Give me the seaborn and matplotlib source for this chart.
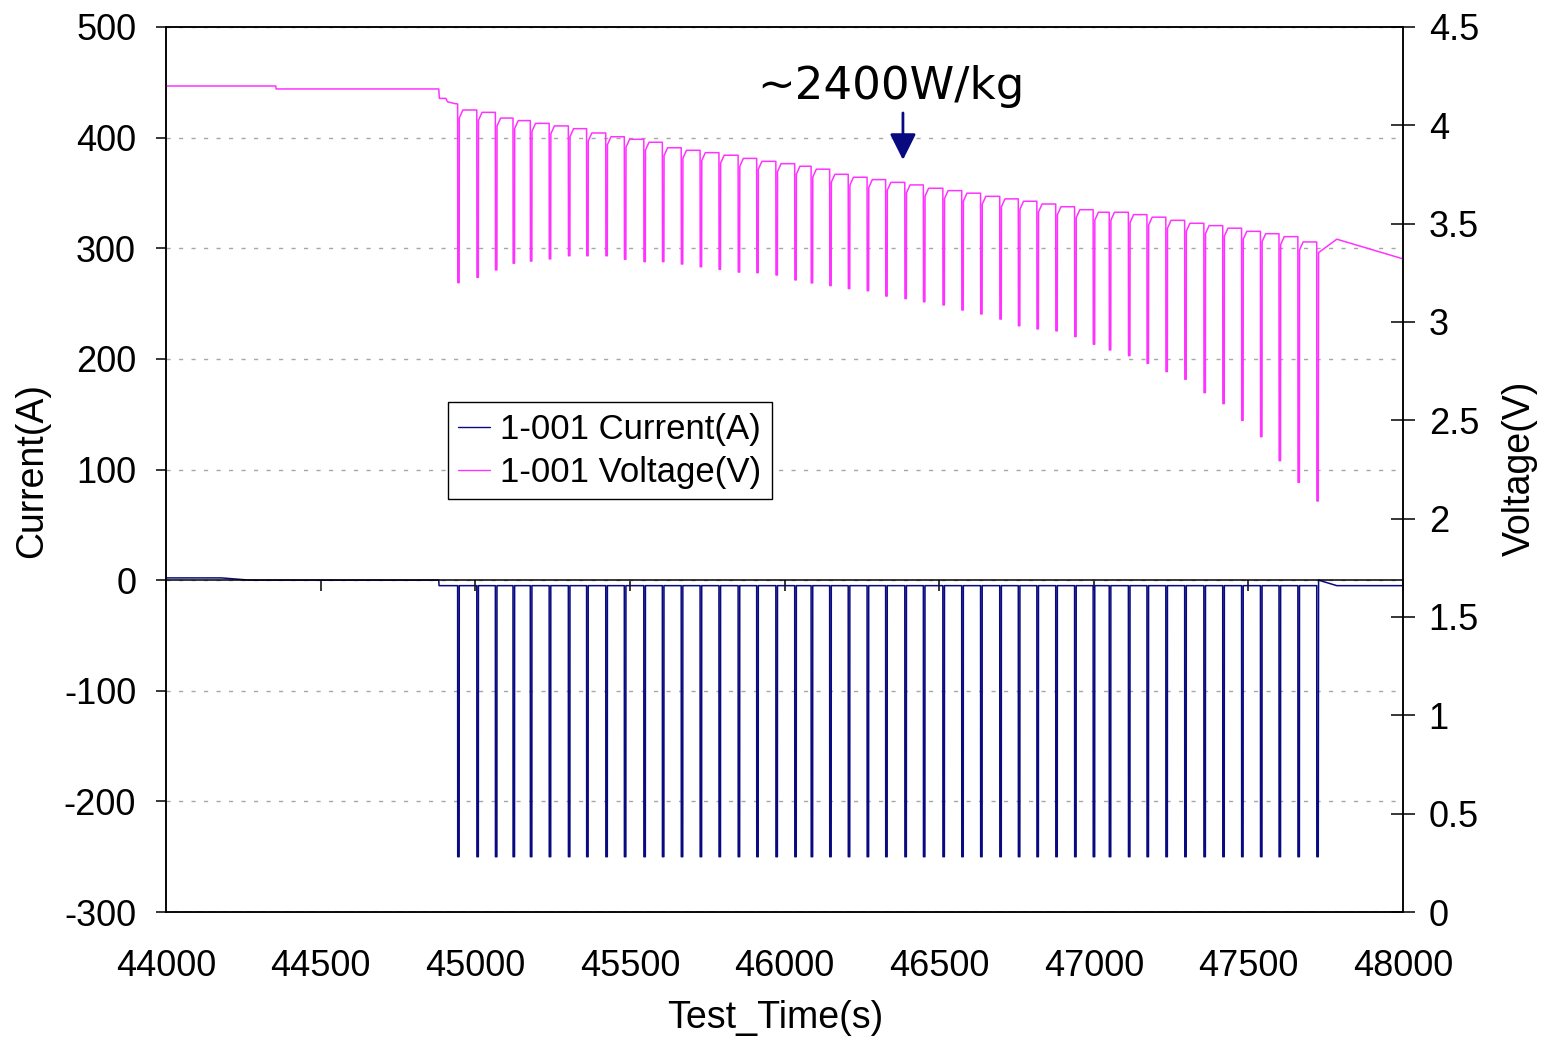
import numpy as np
import pandas as pd
import matplotlib
matplotlib.use("Agg")
import matplotlib.pyplot as plt
from matplotlib.lines import Line2D
from matplotlib.ticker import MultipleLocator, FuncFormatter
import seaborn as sns

# ---------------- data ----------------
pulse_time = [44943, 45005, 45065, 45122, 45178, 45239, 45301, 45360, 45422, 45482,
              45545, 45605, 45666, 45727, 45788, 45850, 45910, 45972, 46033, 46086,
              46146, 46206, 46267, 46327, 46389, 46449, 46512, 46573, 46634, 46696,
              46756, 46816, 46877, 46938, 46998, 47050, 47112, 47172, 47233, 47294,
              47356, 47417, 47478, 47539, 47599, 47660, 47721]
rest_voltage = [4.109, 4.078, 4.066, 4.037, 4.024, 4.010, 3.997, 3.983, 3.961, 3.942,
                3.929, 3.914, 3.886, 3.873, 3.861, 3.848, 3.832, 3.817, 3.805, 3.792,
                3.777, 3.751, 3.736, 3.724, 3.710, 3.697, 3.680, 3.668, 3.655, 3.639,
                3.626, 3.614, 3.600, 3.586, 3.571, 3.558, 3.558, 3.546, 3.533, 3.517,
                3.502, 3.490, 3.477, 3.461, 3.449, 3.434, 3.407]
pulse_min_voltage = [3.200, 3.227, 3.265, 3.299, 3.310, 3.321, 3.337, 3.337, 3.337, 3.319,
                     3.307, 3.307, 3.295, 3.281, 3.268, 3.254, 3.251, 3.239, 3.214, 3.199,
                     3.185, 3.170, 3.159, 3.132, 3.119, 3.103, 3.087, 3.061, 3.041, 3.015,
                     2.981, 2.965, 2.955, 2.926, 2.887, 2.858, 2.829, 2.790, 2.748, 2.709,
                     2.641, 2.585, 2.500, 2.417, 2.295, 2.185, 2.090]
pulse_current = -250
rest_current = -5
pulse_len = 5

lead_time = [44000, 44355, 44356, 44882, 44884, 44905, 44910, 44935]
lead_voltage = [4.200, 4.200, 4.185, 4.185, 4.137, 4.137, 4.120, 4.110]
tail_time = [47727, 47786, 48000]
tail_voltage = [3.353, 3.421, 3.321]

lead_current_time = [44000, 44180, 44270, 44882, 44883]
lead_current = [2, 2, 0, 0, -5]
tail_current_time = [47727, 47786, 48000]
tail_current = [0, -5, -5]

x_ticks = [44000, 44500, 45000, 45500, 46000, 46500, 47000, 47500, 48000]
annot_text = "~2400W/kg"
annot_time = 46383
annot_from_v, annot_to_v = 4.063, 3.824

# ---------------- build waveforms from the read values ----------------
n = len(pulse_time)
vt, vv = list(lead_time), list(lead_voltage)
ct, cc = list(lead_current_time), list(lead_current)
for i, tp in enumerate(pulse_time):
    vt += [tp, tp + 0.5, tp + pulse_len]
    vv += [rest_voltage[i], pulse_min_voltage[i], pulse_min_voltage[i]]
    ct += [tp, tp + 0.3, tp + pulse_len]
    cc += [rest_current, pulse_current, pulse_current]
    if i + 1 < n:
        nxt = rest_voltage[i + 1]
        vt += [tp + pulse_len + 0.5, tp + pulse_len + 12]
        vv += [nxt - 0.04, nxt]
        ct += [tp + pulse_len + 0.3]
        cc += [rest_current]
vt += tail_time
vv += tail_voltage
ct += tail_current_time
cc += tail_current

df_v = pd.DataFrame({"time": vt, "voltage": vv})
df_c = pd.DataFrame({"time": ct, "current": cc})

# ---------------- styling ----------------
sns.set_theme(style="white")
plt.rcParams["font.family"] = ["Liberation Sans", "DejaVu Sans"]
plt.rcParams["axes.unicode_minus"] = False
for k in ("text.color", "axes.labelcolor", "xtick.color", "ytick.color",
          "axes.edgecolor"):
    plt.rcParams[k] = "black"

FS = 26
FS_LAB = 27
FS_LEG = 25
NAVY = "#0a0a80"
MAG = "#ff33ff"

fig = plt.figure(figsize=(15.45, 10.4), dpi=100)
ax = fig.add_axes([166 / 1545, 1 - 912 / 1040, (1403 - 166) / 1545, (912 - 27) / 1040])
ax2 = ax.twinx()

sns.lineplot(data=df_c, x="time", y="current", ax=ax, color=NAVY, lw=1.1,
             estimator=None, sort=False, legend=False)
sns.lineplot(data=df_v, x="time", y="voltage", ax=ax2, color=MAG, lw=1.1,
             estimator=None, sort=False, legend=False)

ax.set_xlim(44000, 48000)
ax.set_ylim(-300, 500)
ax2.set_ylim(0, 4.5)

ax.yaxis.set_major_locator(MultipleLocator(100))
ax2.yaxis.set_major_locator(MultipleLocator(0.5))
ax2.yaxis.set_major_formatter(FuncFormatter(lambda v, p: "%g" % v))

ax.set_axisbelow(True)
ax.yaxis.grid(True, linestyle=(0, (3, 6)), color="#a8a8a8", lw=1.0)
ax.xaxis.grid(False)

for a in (ax, ax2):
    for s in a.spines.values():
        s.set_color("black")
        s.set_linewidth(1.1)
        s.set_visible(True)

# zero line with tick marks
ax.spines["bottom"].set_position(("data", 0))
ax.set_xticks(x_ticks)
ax.tick_params(axis="x", direction="out", length=8, width=1.1, color="black",
               labelbottom=False, bottom=True)
ax.tick_params(axis="y", direction="out", length=7.5, width=1.1, color="black",
               labelsize=FS, pad=14, left=True)
ax2.tick_params(axis="y", direction="inout", length=17, width=1.1, color="black",
                labelsize=FS, pad=10, right=True)

sec = ax.secondary_xaxis("bottom")
sec.set_xticks(x_ticks)
sec.tick_params(axis="x", length=0, labelsize=FS, pad=27)
sec.spines["bottom"].set_color("black")
sec.spines["bottom"].set_linewidth(1.1)

ax.set_xlabel("")
ax.set_ylabel("")
ax2.set_ylabel("")
sec.set_xlabel("")

fig.text(32 / 1545, 1 - 470 / 1040, "Current(A)", rotation=90, ha="center",
         va="center", fontsize=FS_LAB)
fig.text(1520 / 1545, 1 - 468 / 1040, "Voltage(V)", rotation=90, ha="center",
         va="center", fontsize=FS_LAB)
fig.text(775 / 1545, 1 - 1018 / 1040, "Test_Time(s)", ha="center", va="center",
         fontsize=FS_LAB)

# annotation
ax2.annotate("", xy=(annot_time, annot_to_v), xytext=(annot_time, annot_from_v),
             arrowprops=dict(arrowstyle="-|>", color=NAVY, lw=2.0,
                             mutation_scale=40, shrinkA=0, shrinkB=0))
ax2.text(46344, 4.195, annot_text, ha="center", va="center", fontsize=32.5,
         family="DejaVu Sans", color="black")

handles = [Line2D([], [], color=NAVY, lw=1.0), Line2D([], [], color=MAG, lw=1.0)]
leg = ax2.legend(handles, ["1-001 Current(A)", "1-001 Voltage(V)"],
                 loc="upper left", bbox_to_anchor=(0.228, 0.576),
                 fontsize=FS_LEG, frameon=True, fancybox=False, framealpha=1,
                 edgecolor="black", borderaxespad=0, borderpad=0.3,
                 handlelength=0.9, handletextpad=0.3, labelspacing=0.3)
leg.get_frame().set_linewidth(1.0)

fig.savefig("out.png", dpi=100)
